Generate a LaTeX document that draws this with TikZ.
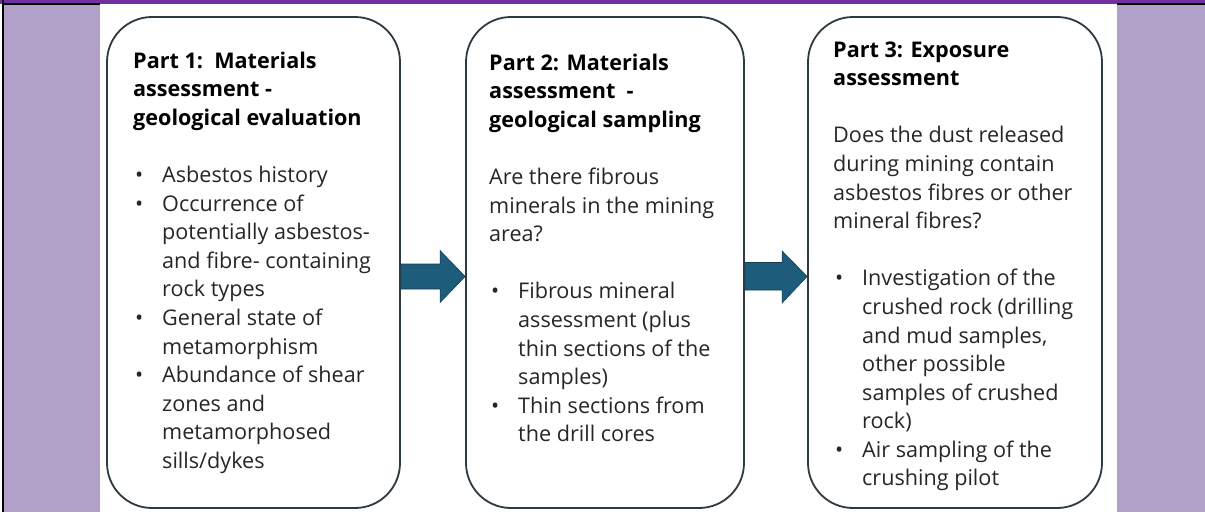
\documentclass[tikz,border=0pt]{standalone}
\usepackage{fontspec}
\setmainfont{Open Sans}
\usetikzlibrary{calc}

\definecolor{lilac}{RGB}{177,160,199}
\definecolor{barpurple}{RGB}{112,48,160}
\definecolor{boxline}{RGB}{46,58,66}
\definecolor{arrowblue}{RGB}{30,92,124}
\definecolor{arrowedge}{RGB}{24,60,80}
\definecolor{bodytext}{RGB}{38,38,38}

% bullet item and its continuation lines
\newcommand{\itm}[1]{\makebox[29pt][l]{\hspace{2pt}\textbullet}#1}
\newcommand{\cnt}[1]{\hspace*{29pt}#1}
\newcommand{\gap}{\\[28.6pt]}

\begin{document}
\begin{tikzpicture}[x=1pt,y=-1pt,
  stage/.style={draw=boxline, line width=1.8pt, rounded corners=45pt,
    minimum height=491pt, inner sep=0pt},
  stagetext/.style={anchor=base west, inner sep=0pt, text=bodytext,
    font=\fontsize{21.6}{28.6}\selectfont},
  flow/.style={fill=arrowblue, draw=arrowedge, line width=0.6pt}]

% page background and side bands
\useasboundingbox (0,0) rectangle (1205,514);
\fill[white] (0,0) rectangle (1205,514);
\fill[lilac] (4,4) rectangle (100,512);
\fill[lilac] (1117,4) rectangle (1205,512);
\fill[barpurple] (0,0) rectangle (1205,3.5);
\draw[black, line width=1.2pt] (3,4) -- (100,4);
\draw[black, line width=1.2pt] (1117,4) -- (1205,4);
\draw[black, line width=1.8pt] (3.3,0) -- (3.3,512);

% the three stages
\node[stage, minimum width=293pt] (b1) at (253.5,262.5) {};
\node[stage, minimum width=278pt] (b2) at (605,262.5) {};
\node[stage, minimum width=294pt] (b3) at (955,262.5) {};

\node[stagetext] (t1) at (133,68) {\parbox[t]{300pt}{\raggedright\leavevmode
  {\color{black}\bfseries Part 1:\ \ Materials\\
  assessment -\\
  geological evaluation}\gap
  \itm{Asbestos history}\\
  \itm{Occurrence of}\\
  \cnt{potentially asbestos-}\\
  \cnt{and fibre- containing}\\
  \cnt{rock types}\\
  \itm{General state of}\\
  \cnt{metamorphism}\\
  \itm{Abundance of shear}\\
  \cnt{zones and}\\
  \cnt{metamorphosed}\\
  \cnt{sills/dykes}}};

\node[stagetext] (t2) at (489,70) {\parbox[t]{300pt}{\raggedright\leavevmode
  {\color{black}\bfseries Part 2: Materials\\
  assessment\ \ -\\
  geological sampling}\gap
  Are there fibrous\\
  minerals in the mining\\
  area?\gap
  \itm{Fibrous mineral}\\
  \cnt{assessment (plus}\\
  \cnt{thin sections of the}\\
  \cnt{samples)}\\
  \itm{Thin sections from}\\
  \cnt{the drill cores}}};

\node[stagetext] (t3) at (833,57) {\parbox[t]{300pt}{\raggedright\leavevmode
  {\color{black}\bfseries Part 3: Exposure\\
  assessment}\gap
  Does the dust released\\
  during mining contain\\
  asbestos fibres or other\\
  mineral fibres?\gap
  \itm{Investigation of the}\\
  \cnt{crushed rock (drilling}\\
  \cnt{and mud samples,}\\
  \cnt{other possible}\\
  \cnt{samples of crushed}\\
  \cnt{rock)}\\
  \itm{Air sampling of the}\\
  \cnt{crushing pilot}}};

% block arrows between the stages
\draw[flow] ($(b1.east)+(0,1.5)$) -- ($(b2.west)+(-25,1.5)$)
  -- ($(b2.west)+(-25,-12)$) -- ($(b2.west)+(0,14)$)
  -- ($(b2.west)+(-25,40)$) -- ($(b2.west)+(-25,26.5)$)
  -- ($(b1.east)+(0,26.5)$) -- cycle;
\draw[flow] ($(b2.east)+(0,0)$) -- ($(b3.west)+(-25,0)$)
  -- ($(b3.west)+(-25,-11.5)$) -- ($(b3.west)+(0,14)$)
  -- ($(b3.west)+(-25,40.5)$) -- ($(b3.west)+(-25,27.5)$)
  -- ($(b2.east)+(0,27.5)$) -- cycle;
\end{tikzpicture}
\end{document}
